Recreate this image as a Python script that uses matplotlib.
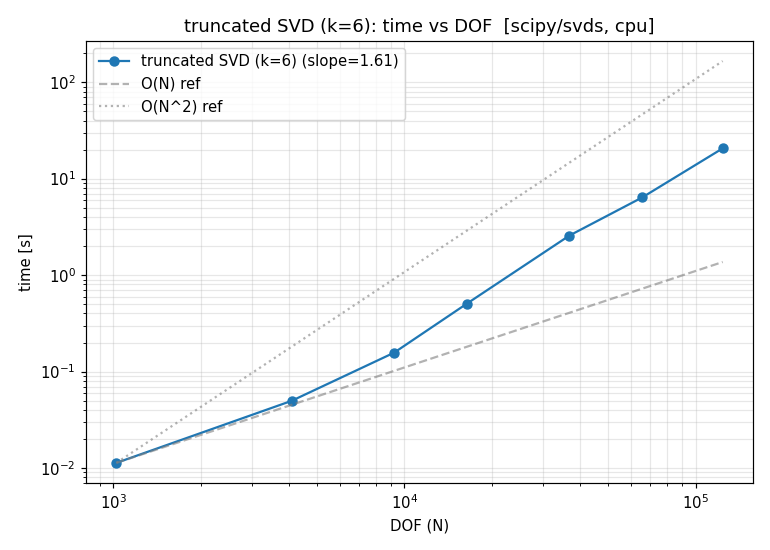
import numpy as np
import matplotlib
matplotlib.use("Agg")
import matplotlib.pyplot as plt

dof = [1024, 4096, 9216, 16384, 36864, 65536, 123904]
times = [0.0113, 0.0497, 0.157, 0.506, 2.57, 6.38, 20.6]
slope_label = "1.61"

N = np.array(dof, dtype=float)
t = np.array(times)
ref1 = t[0] * (N / N[0])
ref2 = t[0] * (N / N[0]) ** 2

DPI = 107
fig, ax = plt.subplots(figsize=(770 / DPI, 550 / DPI), dpi=DPI)
ax.loglog(N, t, marker='o', color='#1f77b4', markersize=6, linewidth=1.5,
          label=f"truncated SVD (k=6) (slope={slope_label})")
ax.loglog(N, ref1, '--', color='gray', alpha=0.6, linewidth=1.5, label="O(N) ref")
ax.loglog(N, ref2, ':', color='gray', alpha=0.6, linewidth=1.5, label="O(N^2) ref")
ax.grid(True, which='both', alpha=0.3)
ax.set_xlabel("DOF (N)")
ax.set_ylabel("time [s]")
ax.set_title("truncated SVD (k=6): time vs DOF  [scipy/svds, cpu]")
ax.legend(loc='upper left')
fig.subplots_adjust(left=86 / 770, right=753 / 770, top=1 - 41 / 550, bottom=1 - 483 / 550)
fig.savefig("out.png", dpi=DPI)
